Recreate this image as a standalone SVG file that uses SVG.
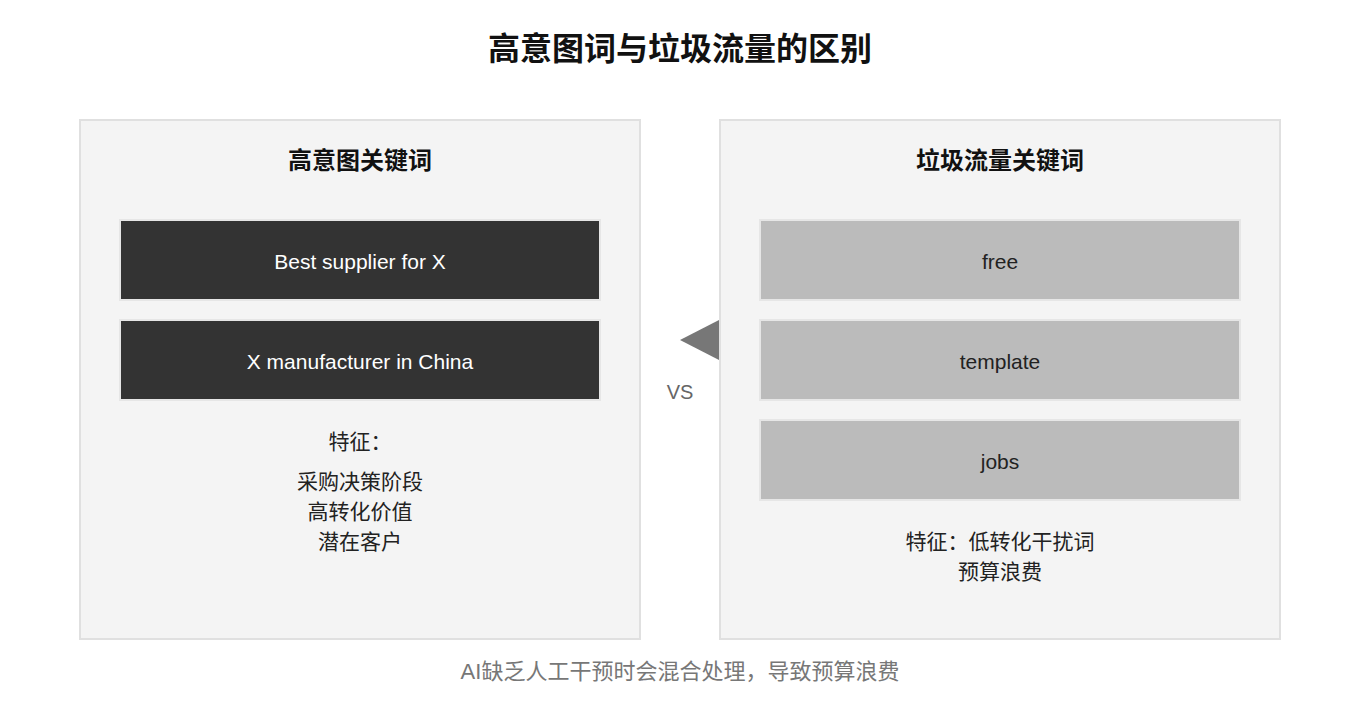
<svg xmlns="http://www.w3.org/2000/svg" width="1360" height="720" viewBox="0 0 1360 720">
<style>
text{font-family:"Liberation Sans","Noto Sans CJK SC",sans-serif;text-anchor:middle}
.panel{fill:#f4f4f4;stroke:#e0e0e0;stroke-width:2}
.dark{fill:#333333;stroke:#e6e6e6;stroke-width:2}
.grey{fill:#bbbbbb;stroke:#e6e6e6;stroke-width:2}
.h{font-size:24px;font-weight:bold;fill:#111}
.w{font-size:21px;fill:#fff}
.b{font-size:21px;fill:#222}
</style>
<rect width="1360" height="720" fill="#fff"/>
<text x="680" y="60" font-size="32" font-weight="bold" fill="#111">高意图词与垃圾流量的区别</text>
<g id="left">
<rect class="panel" x="80" y="120" width="560" height="519"/>
<text class="h" x="360" y="169">高意图关键词</text>
<rect class="dark" x="120" y="220" width="480" height="80"/>
<text class="w" x="360" y="269">Best supplier for X</text>
<rect class="dark" x="120" y="320" width="480" height="80"/>
<text class="w" x="360" y="369">X manufacturer in China</text>
<text class="b" x="360" y="449">特征：</text>
<text class="b" x="360" y="489">采购决策阶段</text>
<text class="b" x="360" y="519">高转化价值</text>
<text class="b" x="360" y="549">潜在客户</text>
</g>
<g id="right">
<rect class="panel" x="720" y="120" width="560" height="519"/>
<text class="h" x="1000" y="169">垃圾流量关键词</text>
<rect class="grey" x="760" y="220" width="480" height="80"/>
<text class="b" x="1000" y="269">free</text>
<rect class="grey" x="760" y="320" width="480" height="80"/>
<text class="b" x="1000" y="369">template</text>
<rect class="grey" x="760" y="420" width="480" height="80"/>
<text class="b" x="1000" y="469">jobs</text>
<text class="b" x="1000" y="549">特征：低转化干扰词</text>
<text class="b" x="1000" y="579">预算浪费</text>
</g>
<g id="connectors">
<polygon points="680,340 719,320 719,360" fill="#777"/>
<text x="680" y="399" font-size="20" fill="#666">VS</text>
</g>
<text x="680" y="679" font-size="22" fill="#777">AI缺乏人工干预时会混合处理，导致预算浪费</text>
</svg>
